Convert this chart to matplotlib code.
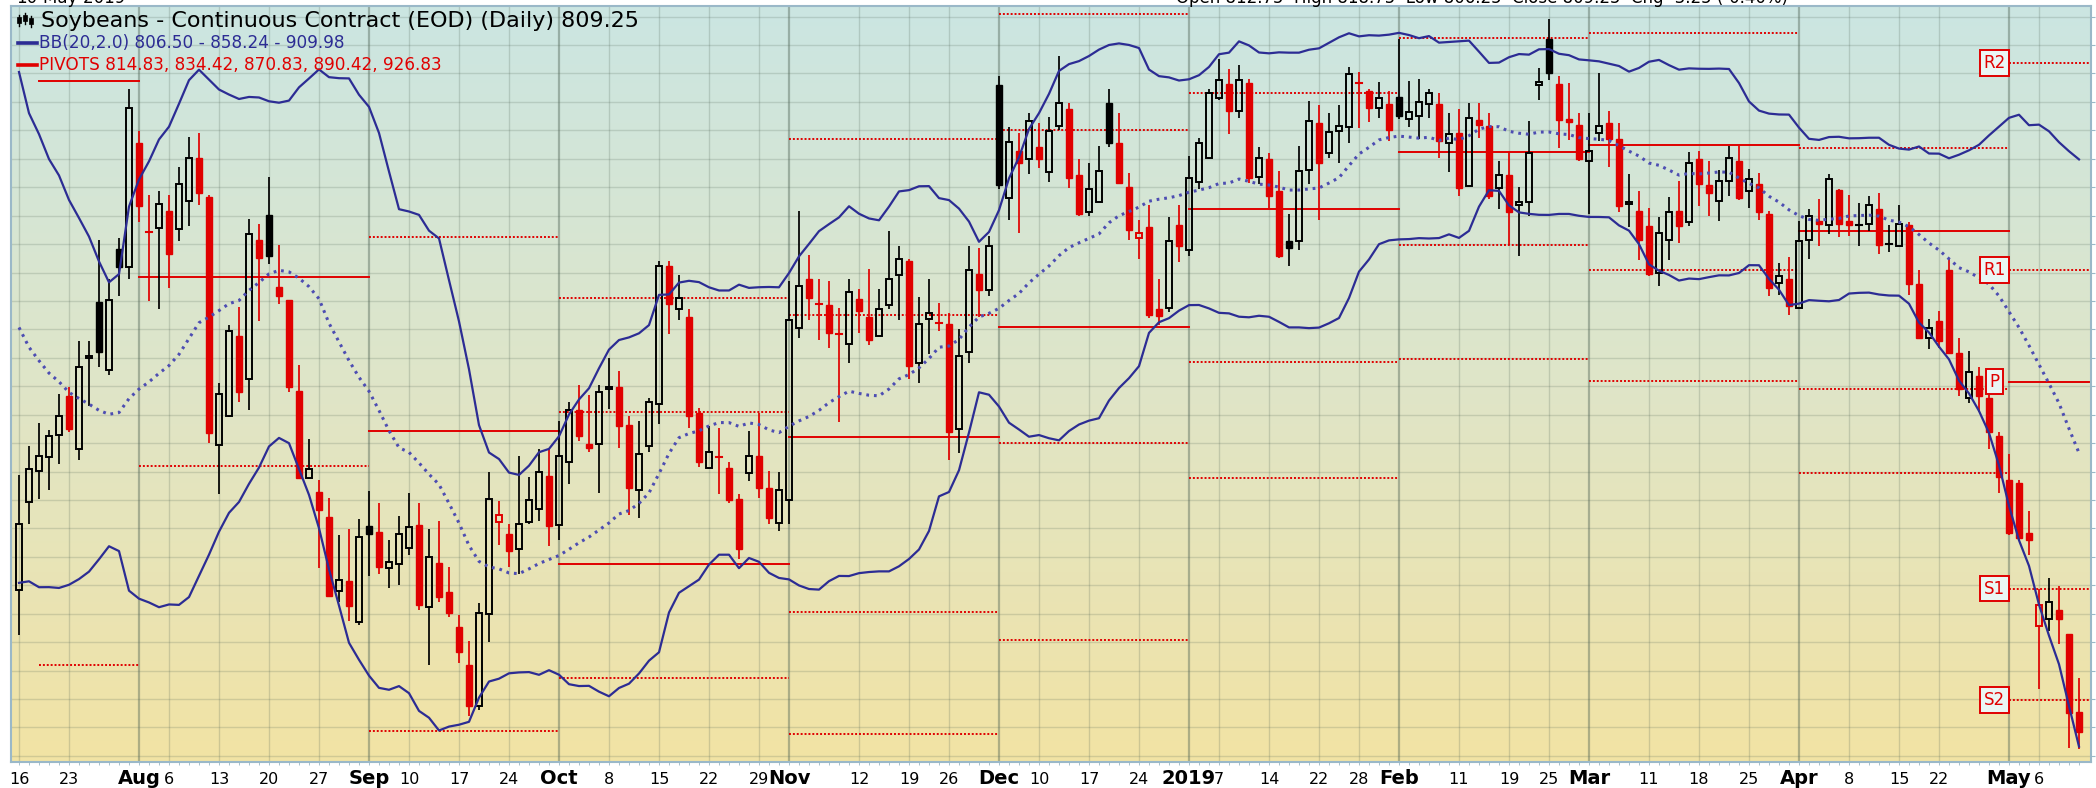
import numpy as np
import pandas as pd
import matplotlib
matplotlib.use("Agg")
import matplotlib.pyplot as plt
from matplotlib.colors import LinearSegmentedColormap
from matplotlib.lines import Line2D
from matplotlib.patches import Rectangle


# exchange holidays inside the window (Dec 5 = national day of mourning)
holidays = ["2018-09-03", "2018-11-22", "2018-12-05", "2018-12-25",
            "2019-01-01", "2019-01-21", "2019-02-18", "2019-04-19"]

# closes before the first bar, only used to seed the 20 day bands
warmup_closes = [925, 905, 905, 895, 900, 895, 895, 898, 899, 885,
                 870, 868, 872, 872, 866, 866, 855, 848, 842]
# June high / low / close, for the July pivot levels
june_hlc = (1026.5, 859.6, 885.0)

opens = [
    834.2, 849.7, 855.1, 857.6, 861.4, 868.2, 858.9, 875.0, 884.8, 872.9, 894.1, 891.0,
    912.8, 897.3, 897.8, 900.8, 897.6, 902.6, 910.2, 903.3, 859.6, 864.8, 878.9, 871.2,
    895.8, 900.1, 887.4, 885.1, 869.1, 853.9, 851.4, 847.0, 834.0, 835.8, 828.5,
    845.4, 844.4, 838.1, 838.8, 841.6, 845.6, 831.1, 838.9, 833.9, 827.7, 821.0, 813.8,
    830.0, 846.2, 844.1, 841.3, 846.2, 848.4, 854.3,
    845.6, 856.7, 865.9, 859.9, 859.8, 869.5, 869.9, 863.2, 851.8, 859.5, 866.9, 891.2,
    883.5, 882.2, 865.3, 855.6, 857.6, 855.6, 850.1, 854.8, 857.7, 852.1, 845.9,
    850.0, 880.3, 888.9, 884.5, 884.2, 879.5, 877.5, 885.4, 882.2, 878.9, 884.2, 889.5,
    892.1, 874.0, 881.8, 881.3, 881.0, 862.4, 876.0, 889.8, 887.0,
    923.0, 903.1, 911.3, 909.9, 912.1, 907.6, 915.8, 918.8, 907.2, 900.6, 902.4, 919.8,
    912.8, 905.1, 896.1, 898.0, 883.5, 883.8, 898.3,
    894.0, 906.0, 910.2, 920.7, 923.2, 918.4, 923.3, 906.8, 909.9, 904.3, 895.5, 895.5,
    908.1, 916.2, 911.0, 914.8, 915.6, 923.4, 921.9, 919.0, 919.6,
    920.9, 917.0, 917.6, 919.7, 919.6, 912.8, 914.6, 905.2, 916.8, 915.7, 904.9, 907.1,
    901.8, 902.4, 923.0, 931.0, 923.1, 917.0, 915.9,
    909.6, 914.5, 916.3, 913.4, 902.0, 900.8, 898.2, 890.0, 895.8, 900.8, 898.9, 909.9,
    905.3, 902.5, 906.1, 909.6, 904.3, 905.5, 900.2, 888.2, 888.8,
    883.8, 895.8, 899.0, 898.3, 904.5, 899.0, 898.2, 898.6, 901.2, 894.8, 894.7, 898.4,
    887.9, 878.5, 881.4, 890.5, 875.9, 868.0, 871.8, 868.0, 861.2,
    853.6, 853.0, 844.2, 827.8, 829.0, 830.7, 826.4, 812.75,
]
highs = [
    854.4, 859.5, 863.5, 862.3, 868.7, 869.8, 878.0, 878.0, 895.8, 888.8, 896.0, 922.3,
    914.9, 903.7, 904.3, 903.7, 908.6, 913.9, 914.5, 903.7, 870.5, 880.7, 883.9, 899.4,
    898.6, 906.8, 894.9, 885.1, 873.7, 860.7, 853.5, 850.4, 843.8, 844.9, 846.6,
    851.5, 849.5, 842.9, 847.1, 851.2, 849.5, 844.9, 846.3, 838.2, 829.7, 825.2, 831.9,
    855.0, 849.8, 845.7, 857.8, 854.0, 858.9, 858.9,
    863.9, 867.3, 870.2, 868.4, 870.2, 874.9, 872.7, 864.8, 863.9, 868.0, 892.0, 892.0,
    889.5, 883.5, 866.2, 863.0, 862.7, 856.6, 851.1, 862.1, 865.3, 855.1, 854.9,
    888.5, 900.8, 893.0, 888.8, 888.5, 883.8, 888.8, 887.1, 890.6, 887.1, 897.3, 894.7,
    892.3, 885.7, 888.9, 884.6, 882.9, 880.0, 894.7, 894.3, 896.5,
    924.5, 915.5, 914.5, 918.1, 916.2, 917.4, 928.0, 919.8, 910.0, 909.3, 912.2, 922.3,
    918.1, 907.5, 899.3, 901.9, 888.9, 899.8, 901.9,
    910.4, 913.7, 922.2, 927.5, 925.8, 926.4, 924.0, 912.1, 911.0, 907.8, 900.2, 912.2,
    920.1, 919.4, 918.0, 919.4, 926.1, 925.2, 922.2, 923.5, 922.0,
    931.0, 923.7, 924.0, 922.3, 921.6, 918.1, 918.8, 919.8, 919.8, 918.1, 909.6, 911.2,
    905.1, 916.6, 926.0, 934.5, 924.5, 923.4, 918.1,
    918.1, 925.0, 918.4, 916.3, 907.4, 904.3, 901.4, 899.8, 903.3, 906.1, 911.2, 911.4,
    909.6, 908.1, 912.2, 912.2, 908.2, 907.5, 900.8, 891.7, 892.8,
    899.0, 901.2, 903.0, 907.25, 904.7, 903.7, 902.3, 903.5, 904.0, 898.3, 901.8, 898.9,
    890.5, 881.9, 883.2, 892.3, 878.5, 876.2, 873.3, 868.5, 862.0,
    858.0, 853.5, 848.0, 834.3, 836.3, 834.9, 826.4, 818.75,
]
lows = [
    826.2, 845.8, 850.1, 851.7, 856.4, 861.9, 857.0, 866.6, 873.3, 872.0, 885.8, 888.8,
    898.8, 885.0, 883.5, 887.2, 895.6, 898.2, 901.9, 860.1, 851.1, 864.6, 867.2, 865.8,
    881.5, 891.5, 884.4, 869.0, 853.7, 853.7, 838.1, 832.9, 832.1, 828.8, 828.0,
    836.6, 836.9, 834.5, 835.1, 840.4, 830.6, 821.0, 832.0, 829.4, 821.4, 812.1, 813.0,
    825.0, 842.0, 838.2, 837.0, 845.7, 846.3, 841.9,
    842.9, 852.8, 860.3, 858.4, 851.3, 866.0, 859.2, 847.3, 846.9, 858.4, 863.3, 879.1,
    881.6, 862.7, 855.8, 855.4, 851.0, 849.5, 839.7, 853.4, 850.4, 845.7, 844.5,
    845.7, 878.5, 881.7, 878.1, 876.8, 863.7, 874.0, 879.4, 877.2, 878.8, 883.5, 881.7,
    871.2, 870.5, 875.6, 879.8, 857.0, 858.2, 874.0, 882.2, 885.8,
    904.6, 899.3, 896.9, 907.4, 908.4, 905.9, 915.1, 904.9, 899.9, 899.9, 902.4, 912.1,
    905.5, 895.7, 892.3, 882.0, 880.7, 883.0, 891.8,
    892.9, 904.6, 909.9, 920.4, 914.4, 917.2, 905.8, 905.6, 901.4, 892.6, 891.1, 894.0,
    905.5, 899.3, 910.1, 909.2, 912.7, 915.4, 916.4, 917.2, 913.1,
    917.0, 915.5, 913.4, 917.2, 910.2, 907.7, 903.4, 905.2, 913.7, 902.9, 901.1, 894.9,
    892.9, 900.0, 920.3, 923.9, 911.9, 913.3, 909.6,
    900.2, 913.1, 908.6, 900.6, 898.0, 892.2, 889.4, 887.6, 892.2, 895.2, 898.2, 901.7,
    899.9, 899.0, 903.4, 902.8, 901.4, 899.3, 885.8, 886.1, 882.6,
    883.6, 892.3, 894.6, 896.7, 896.3, 896.4, 894.6, 897.3, 893.2, 893.6, 894.6, 886.1,
    878.3, 876.5, 876.8, 875.6, 868.3, 867.0, 865.5, 859.0, 851.25,
    843.9, 842.8, 840.4, 816.7, 826.9, 824.6, 806.4, 806.25,
]
closes = [
    845.8, 855.4, 857.7, 861.3, 864.8, 862.5, 873.3, 875.4, 876.0, 885.2, 891.0, 919.0,
    901.7, 897.2, 902.1, 893.3, 905.6, 910.2, 903.9, 861.7, 868.7, 879.7, 869.0, 896.8,
    892.5, 892.9, 885.8, 869.9, 853.8, 855.4, 848.3, 833.2, 836.0, 831.4, 843.5,
    844.1, 838.2, 839.1, 844.1, 845.2, 831.6, 839.9, 833.0, 830.2, 823.3, 813.8, 830.1,
    850.1, 847.3, 841.0, 845.8, 850.0, 854.9, 845.4,
    857.7, 865.8, 861.3, 859.2, 869.0, 869.9, 863.0, 852.1, 858.1, 867.2, 891.2, 884.5,
    885.6, 864.8, 856.6, 858.4, 857.5, 850.0, 841.4, 857.7, 852.1, 846.9, 851.7,
    881.7, 887.7, 885.5, 884.4, 879.3, 879.2, 886.5, 883.2, 878.2, 883.5, 888.8, 892.3,
    873.5, 881.0, 882.8, 881.2, 861.9, 875.3, 890.5, 886.9, 894.7,
    905.3, 913.0, 909.3, 916.6, 909.9, 914.8, 919.8, 906.6, 900.2, 904.6, 907.8, 912.7,
    905.8, 897.4, 896.9, 882.6, 882.4, 895.5, 894.6,
    906.6, 912.7, 921.5, 923.9, 918.4, 923.9, 906.6, 910.1, 903.4, 892.9, 894.3, 907.8,
    916.6, 909.2, 914.7, 915.8, 924.9, 923.3, 919.0, 920.7, 915.0,
    917.6, 918.2, 920.0, 921.5, 913.1, 914.3, 904.9, 917.2, 916.0, 903.4, 907.2, 900.6,
    902.4, 911.1, 923.5, 925.1, 916.8, 916.5, 910.0,
    911.4, 915.7, 913.5, 901.7, 902.4, 895.8, 889.7, 896.9, 900.6, 898.2, 909.2, 905.5,
    903.9, 906.1, 910.2, 903.1, 906.4, 900.6, 887.3, 889.4, 884.1,
    895.5, 899.9, 898.6, 906.5, 898.6, 898.3, 898.4, 901.8, 894.9, 895.0, 898.6, 887.9,
    878.5, 880.3, 878.0, 875.9, 869.5, 872.5, 868.3, 862.0, 854.0,
    844.2, 843.4, 843.0, 831.5, 832.0, 829.0, 812.5, 809.25,
]

tick_dates = ["2018-07-16", "2018-07-23", "2018-08-01", "2018-08-06", "2018-08-13",
              "2018-08-20", "2018-08-27", "2018-09-04", "2018-09-10", "2018-09-17",
              "2018-09-24", "2018-10-01", "2018-10-08", "2018-10-15", "2018-10-22",
              "2018-10-29", "2018-11-01", "2018-11-12", "2018-11-19", "2018-11-26",
              "2018-12-03", "2018-12-10", "2018-12-17", "2018-12-24", "2019-01-02",
              "2019-01-07", "2019-01-14", "2019-01-22", "2019-01-28", "2019-02-01",
              "2019-02-11", "2019-02-19", "2019-02-25", "2019-03-01", "2019-03-11",
              "2019-03-18", "2019-03-25", "2019-04-01", "2019-04-08", "2019-04-15",
              "2019-04-22", "2019-05-01", "2019-05-06"]
tick_text = ["16", "23", "Aug", "6", "13", "20", "27", "Sep", "10", "17", "24", "Oct",
             "8", "15", "22", "29", "Nov", "12", "19", "26", "Dec", "10", "17", "24",
             "2019", "7", "14", "22", "28", "Feb", "11", "19", "25", "Mar", "11", "18",
             "25", "Apr", "8", "15", "22", "May", "6"]

# ---------------------------------------------------------------------------
dates = pd.bdate_range("2018-07-16", "2019-05-10")
dates = dates[~dates.isin(pd.to_datetime(holidays))]
df = pd.DataFrame({"open": opens, "high": highs, "low": lows, "close": closes}, index=dates)
n = len(df)
x = np.arange(n)

# Bollinger bands (20, 2.0), population std like the charting site
allc = pd.Series(warmup_closes + closes, dtype=float)
nw = len(warmup_closes)
mid = allc.rolling(20).mean().to_numpy()[nw:]
sd = allc.rolling(20).std(ddof=0).to_numpy()[nw:]
upper, lower = mid + 2 * sd, mid - 2 * sd

# monthly floor pivots from the previous month
per = df.index.to_period("M")
mon = df.groupby(per).agg(high=("high", "max"), low=("low", "min"), close=("close", "last"))
prevm = mon.shift(1)
prevm.iloc[0] = list(june_hlc)
P = (prevm["high"] + prevm["low"] + prevm["close"]) / 3
rng = prevm["high"] - prevm["low"]
piv = pd.DataFrame({"R2": P + rng, "R1": 2 * P - prevm["low"], "P": P,
                    "S1": 2 * P - prevm["high"], "S2": P - rng})

RED = "#e00000"
BLACK = "#000000"
NAVY = "#2c2c94"

W, H = 2096, 788
fig = plt.figure(figsize=(W / 100, H / 100), dpi=100)
fig.patch.set_facecolor("white")

def fx(px):
    return px / W

def fy(py):
    return 1 - py / H

ax = fig.add_axes([fx(11), fy(762), (2091 - 11) / W, (762 - 6) / H])
xmin, xmax = -0.8, 207.2
ymin, ymax = 803.93, 936.86
ax.set_xlim(xmin, xmax)
ax.set_ylim(ymin, ymax)

# background wash, teal at the top to sand at the bottom
grad = np.linspace(0, 1, 256)[:, None]
cmap = LinearSegmentedColormap.from_list("wash", ["#cbe6e2", "#dfe5c8", "#f2e3a4"])
ax.imshow(grad, aspect="auto", cmap=cmap, extent=(xmin, xmax, ymin, ymax),
          origin="upper", zorder=0, interpolation="bilinear")

# grid
for yv in np.arange(805, 936, 5):
    ax.axhline(yv, color="#4f6355", alpha=0.2, lw=1.0, zorder=1)
tick_idx = [int(np.searchsorted(dates, pd.Timestamp(d))) for d in tick_dates]
for ti, tt in zip(tick_idx, tick_text):
    major = not tt.isdigit() or tt == "2019"
    ax.axvline(ti, color="#4f6355", alpha=0.42 if major else 0.22,
               lw=1.6 if major else 1.0, zorder=1)

# pivot segments, one per month
months = list(mon.index)
starts = [int(np.where(per == m)[0][0]) for m in months]
starts[0] = 2
ends = starts[1:] + [xmax]
for k, m in enumerate(months):
    for name in ["R2", "R1", "P", "S1", "S2"]:
        lvl = piv.loc[m, name]
        ls = "-" if name == "P" else (0, (1, 1))
        ax.plot([starts[k], ends[k]], [lvl, lvl], color=RED, lw=1.4, ls=ls, zorder=2)

# candles
bw = 0.62
prev_close = np.r_[warmup_closes[-1], closes[:-1]]
for i in range(n):
    o, h, l, c = opens[i], highs[i], lows[i], closes[i]
    col = RED if c < prev_close[i] else BLACK
    lo, hi = min(o, c), max(o, c)
    if hi - lo < 0.35:
        ax.plot([i, i], [l, h], color=col, lw=1.25, zorder=4, solid_capstyle="butt")
        ax.plot([i - bw / 2, i + bw / 2], [c, c], color=col, lw=1.5, zorder=4)
    elif c > o:
        ax.plot([i, i], [l, lo], color=col, lw=1.25, zorder=4, solid_capstyle="butt")
        ax.plot([i, i], [hi, h], color=col, lw=1.25, zorder=4, solid_capstyle="butt")
        ax.add_patch(Rectangle((i - bw / 2, lo), bw, hi - lo, facecolor="none",
                               edgecolor=col, lw=1.4, zorder=4))
    else:
        ax.plot([i, i], [l, h], color=col, lw=1.25, zorder=4, solid_capstyle="butt")
        ax.add_patch(Rectangle((i - bw / 2, lo), bw, hi - lo, facecolor=col,
                               edgecolor=col, lw=1.0, zorder=4))

# bands
ax.plot(x, upper, color=NAVY, lw=1.6, zorder=5)
ax.plot(x, lower, color=NAVY, lw=1.6, zorder=5)
ax.plot(x, mid, color="#4d4db2", lw=2.2, ls=(0, (0.9, 1.6)), zorder=5)

# labels for the current month's pivots
last = months[-1]
for name in ["R2", "R1", "P", "S1", "S2"]:
    ax.text(starts[-1] - 1.45, piv.loc[last, name], name, color=RED, fontsize=12,
            ha="center", va="center", zorder=6,
            bbox=dict(boxstyle="square,pad=0.22", fc="#eaf6f4", ec=RED, lw=1.4))

# axes frame and ticks
for sp in ax.spines.values():
    sp.set_color("#9ab8c8")
    sp.set_linewidth(1.5)
ax.set_xticks([])
ax.set_xticks(x, minor=True)
ax.tick_params(axis="x", which="minor", length=2.5, color="#9ab8c8", direction="out")
ax.yaxis.tick_right()
ax.set_yticks(np.arange(805, 936, 5))
ax.tick_params(axis="y", which="major", length=3, color="#9ab8c8", direction="out",
               labelright=False, labelleft=False)

for ti, tt in zip(tick_idx, tick_text):
    major = not tt.isdigit() or tt == "2019"
    ax.text(ti, (762 - 784) / 756, tt, transform=ax.get_xaxis_transform(),
            ha="center", va="baseline", fontsize=14 if major else 11.5,
            fontweight="bold" if major else "normal", color="black", clip_on=False)

# legend block
icon_x = [19, 25, 31]
icon_lo = [26, 24, 27]
icon_hi = [15, 13, 16]
for ix, ilo, ihi in zip(icon_x, icon_lo, icon_hi):
    fig.add_artist(Line2D([fx(ix), fx(ix)], [fy(ilo), fy(ihi)], color="black", lw=1.0))
    fig.add_artist(Rectangle((fx(ix - 2), fy(ilo - 3)), fx(4), 6 / H, facecolor="black",
                             edgecolor="black", lw=0.5))
fig.text(fx(41), fy(21), "Soybeans - Continuous Contract (EOD) (Daily) %.2f" % closes[-1],
         fontsize=16, va="center", ha="left", color="black")
fig.add_artist(Line2D([fx(18), fx(37)], [fy(43), fy(43)], color=NAVY, lw=2.6))
fig.text(fx(39), fy(43), "BB(20,2.0) 806.50 - 858.24 - 909.98",
         fontsize=12.2, va="center", ha="left", color=NAVY)
fig.add_artist(Line2D([fx(18), fx(37)], [fy(65), fy(65)], color=RED, lw=2.6))
lp = piv.loc[last]
fig.text(fx(39), fy(65), "PIVOTS " + ", ".join("%.2f" % lp[k] for k in ["S2", "S1", "P", "R1", "R2"]),
         fontsize=12.2, va="center", ha="left", color=RED)

# header line, mostly above the top edge
chg = closes[-1] - closes[-2]
fig.text(fx(16), fy(3), "10-May-2019", fontsize=12, va="baseline", ha="left")
fig.text(fx(1176), fy(3),
         "Open %.2f  High %.2f  Low %.2f  Close %.2f  Chg %+.2f (%+.2f%%)"
         % (opens[-1], highs[-1], lows[-1], closes[-1], chg, 100 * chg / closes[-2]),
         fontsize=12, va="baseline", ha="left")

fig.savefig("out.png", dpi=100)
